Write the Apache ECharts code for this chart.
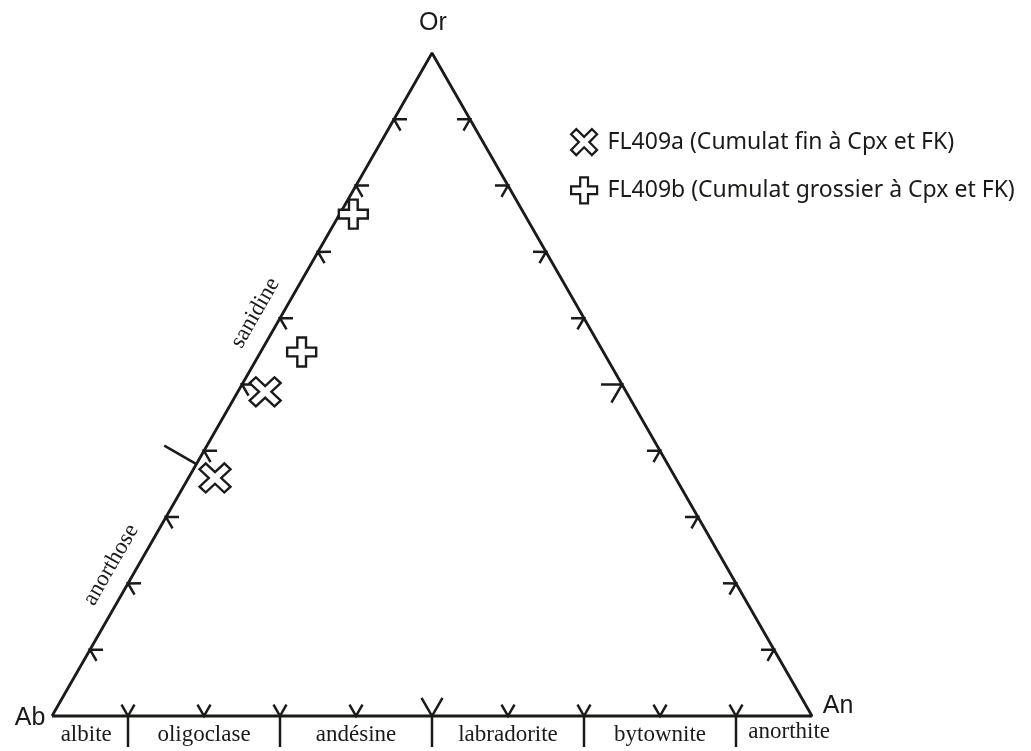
<!DOCTYPE html>
<html>
<head>
<meta charset="utf-8">
<title>Or - Ab - An</title>
<script src="https://cdn.jsdelivr.net/npm/echarts@6/dist/echarts.min.js"></script>
<style>
  html, body { margin: 0; padding: 0; background: #fff; }
  #chart { width: 1031px; height: 751px; }
</style>
</head>
<body>
<div id="chart"></div>
<script>
// compositions are [Ab, Or, An] in %
const vertexNames = ['Ab', 'Or', 'An']
const seriesNames = ['FL409a (Cumulat fin à Cpx et FK)', 'FL409b (Cumulat grossier à Cpx et FK)']
const fl409a = [[47.5, 48.9, 3.6], [60.6, 35.9, 3.5]]
const fl409b = [[22.5, 75.7, 1.8], [39.7, 54.9, 5.4]]

// plagioclase side (An %)
const anTicks = [10, 20, 30, 40, 50, 60, 70, 80, 90]
const anLimits = [10, 30, 50, 70, 90]
const plagNames = ['albite', 'oligoclase', 'andésine', 'labradorite', 'bytownite', 'anorthite']
const plagCenters = [4.5, 20, 40, 60, 80, 97]

// alkali feldspar side (Or %)
const orTicksLeft = [10, 20, 30, 40, 50, 60, 70, 80, 90]
const orTicksRight = [10, 20, 30, 40, 50, 60, 70, 80, 90]
const alkNames = ['anorthose', 'sanidine']
const alkCenters = [21, 59]
const alkLimit = 38

const ink = '#1a1a18'
const crossPath = 'path://M3.5,0L6.5,0L6.5,3.5L10,3.5L10,6.5L6.5,6.5L6.5,10L3.5,10L3.5,6.5L0,6.5L0,3.5L3.5,3.5Z'
const saltirePath = 'path://M0,2L2,0L5,3L8,0L10,2L7,5L10,8L8,10L5,7L2,10L0,8L3,5Z'

// ternary -> plane (x along Ab-An, y = Or)
const toXY = c => [(c[2] + c[1] / 2) / 100, c[1] / 100]

const corners = [[100, 0, 0], [0, 100, 0], [0, 0, 100]]
const edgeLine = [corners[0], corners[2], corners[1], corners[0]].map(toXY)

// tick marks: x, y, edge (0 base, 1 left, 2 right), chevron size, outward stroke
let tickData = []
anTicks.forEach(an => {
  tickData.push([...toXY([100 - an, 0, an]), 0, an === 50 ? 21 : 13, anLimits.includes(an) ? 31 : 0])
})
orTicksLeft.forEach(or => tickData.push([...toXY([100 - or, or, 0]), 1, 13, 0]))
tickData.push([...toXY([100 - alkLimit, alkLimit, 0]), 1, 0, 37])
orTicksRight.forEach(or => tickData.push([...toXY([0, or, 100 - or]), 2, or === 50 ? 21 : 13, 0]))

const plagData = plagCenters.map((an, i) => [...toXY([100 - an, 0, an]), i])
const alkData = alkCenters.map((or, i) => [...toXY([100 - or, or, 0]), i])
const vertexData = corners.map((c, i) => [...toXY(c), i])

// inward unit normal of an edge, in screen pixels
function edgeFrame(edge, api) {
  const A = api.coord(toXY(corners[0]))
  const O = api.coord(toXY(corners[1]))
  const N = api.coord(toXY(corners[2]))
  const C = [(A[0] + O[0] + N[0]) / 3, (A[1] + O[1] + N[1]) / 3]
  const ends = [[A, N], [A, O], [O, N]][edge]
  let dx = ends[1][0] - ends[0][0]
  let dy = ends[1][1] - ends[0][1]
  const len = Math.sqrt(dx * dx + dy * dy)
  dx /= len
  dy /= len
  let n = [-dy, dx]
  if ((C[0] - ends[0][0]) * n[0] + (C[1] - ends[0][1]) * n[1] < 0) n = [dy, -dx]
  return { n, d: [dx, dy] }
}

function rot(v, t) {
  return [v[0] * Math.cos(t) - v[1] * Math.sin(t), v[0] * Math.sin(t) + v[1] * Math.cos(t)]
}

const myChart = echarts.init(document.getElementById('chart'))
const option = {
  backgroundColor: '#fff',
  animation: false,
  grid: { left: 52, right: 219, top: 53, bottom: 35 },
  xAxis: { type: 'value', min: 0, max: 1, show: false },
  yAxis: { type: 'value', min: 0, max: 1, show: false },
  legend: {
    orient: 'vertical',
    left: 565,
    top: 123,
    itemWidth: 27,
    itemHeight: 26,
    itemGap: 20,
    data: [
      { name: seriesNames[0], icon: saltirePath },
      { name: seriesNames[1], icon: crossPath }
    ],
    itemStyle: { color: '#fff', borderColor: ink, borderWidth: 2.2 },
    textStyle: { fontFamily: 'Noto Sans', fontSize: 23, color: ink, padding: [0, 0, 0, 5] }
  },
  series: [
    {
      type: 'line',
      data: edgeLine,
      symbol: 'none',
      clip: false,
      silent: true,
      z: 2,
      lineStyle: { color: ink, width: 2.8 }
    },
    {
      type: 'custom',
      data: tickData,
      encode: { x: 0, y: 1 },
      silent: true,
      z: 3,
      renderItem: function (params, api) {
        const p = api.coord([api.value(0), api.value(1)])
        const f = edgeFrame(api.value(2), api)
        const size = api.value(3)
        const out = api.value(4)
        const children = []
        if (size > 0) {
          const a1 = rot(f.n, Math.PI / 6)
          const a2 = rot(f.n, -Math.PI / 6)
          children.push({
            type: 'polyline',
            shape: { points: [[p[0] + a1[0] * size, p[1] + a1[1] * size], p, [p[0] + a2[0] * size, p[1] + a2[1] * size]] },
            style: { stroke: ink, lineWidth: 2.5, fill: null }
          })
        }
        if (out > 0) {
          children.push({
            type: 'line',
            shape: { x1: p[0], y1: p[1], x2: p[0] - f.n[0] * out, y2: p[1] - f.n[1] * out },
            style: { stroke: ink, lineWidth: 2.5 }
          })
        }
        return { type: 'group', children }
      }
    },
    {
      type: 'custom',
      data: plagData,
      encode: { x: 0, y: 1 },
      silent: true,
      renderItem: function (params, api) {
        const p = api.coord([api.value(0), api.value(1)])
        const i = api.value(2)
        return {
          type: 'text',
          x: p[0],
          y: p[1] + (i === plagNames.length - 1 ? 16 : 19),
          style: {
            text: plagNames[i],
            font: '23px "Liberation Serif"',
            fill: ink,
            align: 'center',
            verticalAlign: 'middle'
          }
        }
      }
    },
    {
      type: 'custom',
      data: alkData,
      encode: { x: 0, y: 1 },
      silent: true,
      renderItem: function (params, api) {
        const p = api.coord([api.value(0), api.value(1)])
        const f = edgeFrame(1, api)
        return {
          type: 'text',
          x: p[0] - f.n[0] * 24,
          y: p[1] - f.n[1] * 24,
          rotation: Math.atan2(-f.d[1], f.d[0]),
          style: {
            text: alkNames[api.value(2)],
            font: '23px "Liberation Serif"',
            fill: ink,
            align: 'center',
            verticalAlign: 'middle'
          }
        }
      }
    },
    {
      type: 'custom',
      data: vertexData,
      encode: { x: 0, y: 1 },
      silent: true,
      renderItem: function (params, api) {
        const p = api.coord([api.value(0), api.value(1)])
        const i = api.value(2)
        const off = [[-22, 2], [1, -30], [26, -10]][i]
        return {
          type: 'text',
          x: p[0] + off[0],
          y: p[1] + off[1],
          style: {
            text: vertexNames[i],
            font: '25px "Liberation Sans"',
            fill: ink,
            align: 'center',
            verticalAlign: 'middle'
          }
        }
      }
    },
    {
      name: seriesNames[0],
      type: 'scatter',
      data: fl409a.map(toXY),
      symbol: saltirePath,
      symbolSize: [31, 29],
      clip: false,
      z: 5,
      itemStyle: { color: '#fff', borderColor: ink, borderWidth: 2.4, opacity: 1 }
    },
    {
      name: seriesNames[1],
      type: 'scatter',
      data: fl409b.map(toXY),
      symbol: crossPath,
      symbolSize: 29,
      clip: false,
      z: 5,
      itemStyle: { color: '#fff', borderColor: ink, borderWidth: 2.4, opacity: 1 }
    }
  ]
}
myChart.setOption(option)
</script>
</body>
</html>
